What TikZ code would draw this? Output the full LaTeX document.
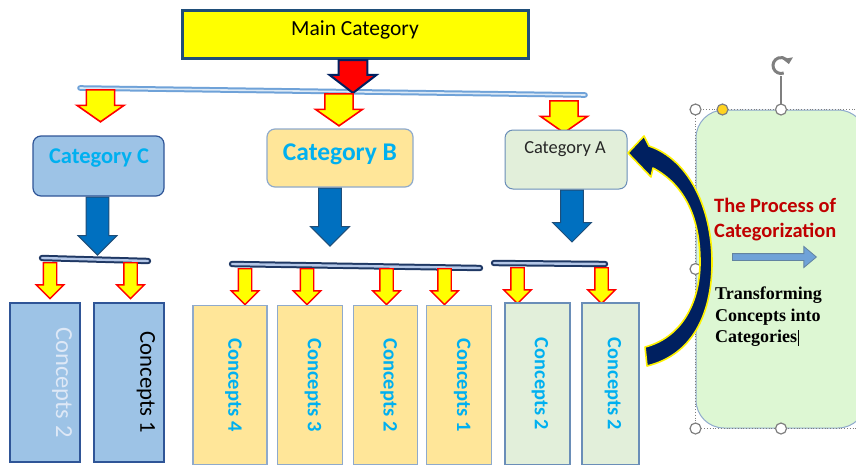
\documentclass[tikz,border=0pt]{standalone}
\usepackage{fontspec}
\setmainfont{Carlito}
\newfontfamily\timesfont{Liberation Serif}
\usetikzlibrary{shapes.arrows,positioning,arrows.meta}

\definecolor{mainyellow}{HTML}{FFFF00}
\definecolor{darkblue}{HTML}{1F4E79}
\definecolor{navy}{HTML}{002060}
\definecolor{catcyan}{HTML}{00B0F0}
\definecolor{cfill}{HTML}{9DC3E6}
\definecolor{cedge}{HTML}{2F5597}
\definecolor{bfill}{HTML}{FFE699}
\definecolor{bedge}{HTML}{8FAACC}
\definecolor{afill}{HTML}{E2EFDA}
\definecolor{aedge}{HTML}{6A8EB8}
\definecolor{arrowblue}{HTML}{0070C0}
\definecolor{barnavy}{HTML}{1F3864}
\definecolor{barlight}{HTML}{B4C7E7}
\definecolor{linelight}{HTML}{6FA2D8}
\definecolor{linepale}{HTML}{DCE9F6}
\definecolor{procfill}{HTML}{DDF7D3}
\definecolor{procred}{HTML}{C00000}
\definecolor{handlegray}{HTML}{7F7F7F}
\definecolor{handleyellow}{HTML}{FFD320}
\definecolor{paleblue}{HTML}{DEE8F6}

\tikzset{
  fatarrow/.style={single arrow, shape border rotate=270, anchor=tail},
  mainarrow/.style={fatarrow, fill=red, draw=navy, line width=2pt,
    inner sep=10pt, minimum height=29pt, minimum width=47pt,
    single arrow tip angle=105},
  yarrow/.style={fatarrow, fill=mainyellow, draw=red, line width=1.6pt,
    inner sep=10pt, minimum height=32pt, minimum width=47pt,
    single arrow tip angle=110},
  smallarrow/.style={fatarrow, fill=mainyellow, draw=red, line width=1.4pt,
    inner sep=6pt, minimum height=36pt, minimum width=27pt,
    single arrow tip angle=90},
  bluearrow/.style={fatarrow, fill=arrowblue, draw=darkblue, line width=1pt,
    inner sep=9.5pt, minimum width=39pt, single arrow tip angle=90},
  catbox/.style={rectangle, rounded corners=8pt, line width=1.2pt},
  conbox/.style={rectangle, line width=1.1pt, minimum height=159pt},
  contxt/.style={rotate=-90, inner sep=0pt},
  topline/.style={draw=linelight, double=linepale, line width=2pt,
    double distance=1.6pt, line cap=round},
  bar/.style={draw=barnavy, double=barlight, line width=2pt,
    double distance=2.4pt, line cap=round},
  handle/.style={circle, draw=handlegray, fill=white, line width=1.2pt,
    minimum size=11pt, inner sep=0pt},
}

\begin{document}
\begin{tikzpicture}[x=1pt,y=-1pt]
  \useasboundingbox (0,0) rectangle (856,464);
  \clip (0,0) rectangle (856,464);

  % main category and the line below it
  \node[rectangle, draw=darkblue, line width=3pt, fill=mainyellow,
    minimum width=346pt, minimum height=48pt] (main) at (355,34) {};
  \node[font=\fontsize{21.5}{24}\selectfont] (maintxt)
    at ([yshift=4pt]main.center) {Main Category};
  \draw[topline] (80,88) -- (585,95);
  \node[mainarrow] (mainarr) at (353,59) {};

  \node[yarrow] (toC) at (100.5,89) {};
  \node[yarrow] (toB) at (339,93) {};
  \node[yarrow] (toA) at (564,100) {};

  % categories
  \node[catbox, draw=cedge, fill=cfill, minimum width=131pt,
    minimum height=60pt] (catC) at (98.5,166) {};
  \node[font=\bfseries\fontsize{22.5}{24}\selectfont, text=catcyan] (catCtxt)
    at (99,158) {Category C};

  \node[catbox, draw=bedge, fill=bfill, minimum width=146pt,
    minimum height=58pt] (catB) at (340,158) {};
  \node[font=\bfseries\fontsize{25.5}{28}\selectfont, text=catcyan] (catBtxt)
    at (340,154) {Category B};

  \node[catbox, draw=aedge, fill=afill, minimum width=122pt,
    minimum height=59pt, line width=1pt] (catA) at (566,159.5) {};
  \node[font=\fontsize{18.4}{20}\selectfont, text=black!85] (catAtxt)
    at (565,149.5) {Category A};

  \node[bluearrow, minimum height=58pt] (downC) at ([xshift=-1pt]catC.south) {};
  \node[bluearrow, minimum height=58pt] (downB) at ([xshift=-10pt]catB.south) {};
  \node[bluearrow, minimum height=52pt] (downA) at ([xshift=6pt]catA.south) {};

  % bars
  \draw[bar] (42,258) -- (148,261);
  \draw[bar] (232,264) -- (480,268);
  \draw[bar] (494,263) -- (605,264);

  \foreach \x/\n in {50/c1,130.5/c2} \node[smallarrow] (s\n) at (\x,262) {};
  \foreach \x/\n in {245/b1,307/b2,386.5/b3,444.5/b4} \node[smallarrow] (s\n) at (\x,268) {};
  \foreach \x/\n in {517.5/a1,601.5/a2} \node[smallarrow] (s\n) at (\x,267) {};

  % concepts
  \node[conbox, draw=cedge, fill=cfill, minimum width=70pt] (cC1) at (45,382.5) {};
  \node[conbox, draw=cedge, fill=cfill, minimum width=70pt] (cC2) at (129,382.5) {};
  \node[contxt, text=paleblue, font=\fontsize{24.5}{26}\selectfont] (tC1)
    at ([xshift=17pt]cC1.center) {Concepts 2};
  \node[contxt, font=\fontsize{22.7}{26}\selectfont] (tC2)
    at ([xshift=17pt]cC2.center) {Concepts 1};

  \node[conbox, draw=bedge, fill=bfill, minimum width=74pt] (cB1) at (230,385) {};
  \node[conbox, draw=bedge, fill=bfill, minimum width=65pt, right=9pt of cB1] (cB2) {};
  \node[conbox, draw=bedge, fill=bfill, minimum width=64pt, right=10pt of cB2] (cB3) {};
  \node[conbox, draw=bedge, fill=bfill, minimum width=65pt, right=8pt of cB3] (cB4) {};
  \foreach \b/\t in {cB1/Concepts 4,cB2/Concepts 3,cB3/Concepts 2,cB4/Concepts 1}
    \node[contxt, text=catcyan, font=\bfseries\fontsize{20.5}{24}\selectfont]
      (t\b) at ([xshift=3.5pt]\b.center) {\t};

  \node[conbox, draw=aedge, fill=afill, minimum width=65pt,
    minimum height=162pt] (cA1) at (537.5,384) {};
  \node[conbox, draw=aedge, fill=afill, minimum width=57pt,
    minimum height=162pt] (cA2) at (610.5,384) {};
  \foreach \b in {cA1,cA2}
    \node[contxt, text=catcyan, font=\bfseries\fontsize{20.3}{24}\selectfont]
      (t\b) at ([xshift=2.5pt]\b.center) {Concepts 2};

  % process box
  \node[rectangle, rounded corners=28pt, draw=bedge, fill=procfill,
    line width=1pt, minimum width=170pt, minimum height=318pt] (proc) at (781,269) {};
  \draw[handlegray, dotted, line width=.8pt] (proc.north west) rectangle (proc.south east);
  \node[anchor=north west, inner sep=0pt, align=left, text=procred,
    font=\bfseries\fontsize{20.4}{25}\selectfont] (proctitle)
    at (714,198) {The Process of\\Categorization};
  \node[single arrow, anchor=tail, fill=linelight, draw=darkblue!70, line width=.8pt,
    inner sep=3pt, minimum width=14pt, minimum height=84pt,
    single arrow tip angle=80] (procarr) at (732,257) {};
  \node[anchor=north west, inner sep=0pt, align=left,
    font=\timesfont\bfseries\fontsize{18}{21.5}\selectfont] (proctext)
    at (715,287) {Transforming\\Concepts into\\Categories\hspace{1pt}\rule[-3pt]{0.6pt}{16pt}};

  % selection handles
  \coordinate (rot) at ([yshift=44pt]proc.north);
  \draw[handlegray, line width=1.3pt] (proc.north) -- ([yshift=-10pt]rot);
  \draw[handlegray, line width=3pt, -{Triangle[length=6pt,width=10pt]}]
    ([shift={(290:8pt)}]rot) arc[start angle=290, end angle=10, radius=8pt];
  \fill[white] (rot) circle[radius=3.2pt];
  \foreach \a in {north west,north,west,south west,south}
    \node[handle] at (proc.\a) {};
  \node[handle, fill=handleyellow] (adj) at ([xshift=27pt]proc.north west) {};

  % curved arrow back to category A
  \draw[fill=navy, draw=yellow, line width=1.6pt, line join=round]
    (628,153) -- (644,136) -- (649,146)
    .. controls (690,160) and (712,210) .. (712,262)
    .. controls (712,315) and (692,355) .. (647,366)
    -- (645,347)
    .. controls (680,338) and (700,305) .. (700,262)
    .. controls (700,218) and (685,185) .. (653,168)
    -- (651,177) -- cycle;
\end{tikzpicture}
\end{document}
